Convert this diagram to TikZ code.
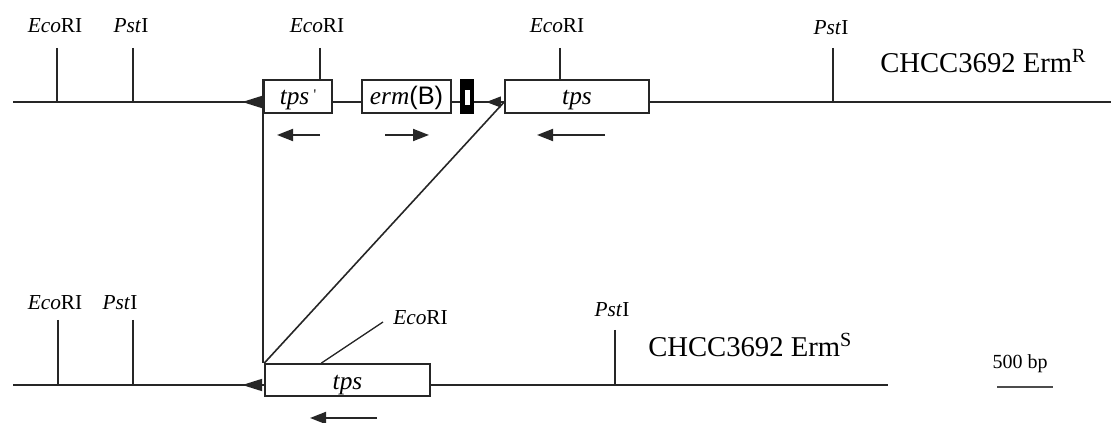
\documentclass[tikz,border=0pt]{standalone}
\usepackage{fontspec}
\setmainfont{Liberation Serif}
\newfontfamily\sansB{Liberation Sans}
\usetikzlibrary{arrows.meta}
\tikzset{
  dna/.style={line width=1.4pt, black!85},
  ticker/.style={line width=1.0pt, black!85},
  gene/.style={draw=black!85, fill=white, line width=1.2pt, inner sep=0pt,
    minimum height=24.75pt, text height=15pt, text depth=3pt,
    font=\fontsize{19}{19}\selectfont\itshape},
  site/.style={inner sep=0pt, anchor=base, font=\fontsize{16}{16}\selectfont},
  strain/.style={inner sep=0pt, anchor=base west, font=\fontsize{21.5}{21.5}\selectfont},
  bighead/.style={-{Triangle[length=15pt,width=9pt]}},
  midhead/.style={-{Triangle[length=11pt,width=8pt]}},
  dirarrow/.style={line width=1.4pt, black!85, -{Triangle[length=12pt,width=9pt]}}
}
\newcommand{\enz}[1]{\textit{#1}RI}
\begin{document}
\begin{tikzpicture}[x=0.75pt,y=-0.75pt]
\useasboundingbox (0,0) rectangle (1111,423);
% ---------- top map (Erm R) ----------
\coordinate (L1) at (13,102);
\coordinate (R1) at (1111,102);
\node[gene, minimum width=51pt] (tpsp) at (298,96.5) {tps\,\raisebox{4pt}{\upshape\fontsize{11}{11}\selectfont\textquotesingle}};
\node[gene, minimum width=66.75pt] (erm) at (406.5,96.5) {erm{\sansB\upshape(B)}};
\node[draw=black, fill=black, line width=0.8pt, inner sep=0pt, minimum width=9pt, minimum height=24.75pt] (ins) at (467,96.5) {};
\fill[white] (465,90) rectangle (469.5,105);
\node[gene, minimum width=108pt] (tpsR) at (577,96.5) {tps};

\draw[dna] (L1) -- (tpsp.west |- L1);
\draw[dna, bighead] (tpsp.west |- L1) -- ++(-21,0);
\draw[dna] (tpsp.east |- L1) -- (erm.west |- L1);
\draw[dna] (erm.east |- L1) -- (ins.west |- L1);
\draw[dna] (ins.east |- L1) -- (tpsR.west |- L1);
\draw[dna, midhead] (tpsR.west |- L1) -- ++(-18,0);
\draw[dna] (tpsR.east |- L1) -- (R1);

% restriction sites, top
\node[site] (e1) at (55,33) {\enz{Eco}};
\node[site] (p1) at (131,33) {\textit{Pst}I};
\node[site] (e2) at (317,33) {\enz{Eco}};
\node[site] (e3) at (557,33) {\enz{Eco}};
\node[site] (p2) at (831,35) {\textit{Pst}I};
\draw[ticker] (57,48) -- (57,102);
\draw[ticker] (133,48) -- (133,102);
\draw[ticker] (320,48) -- (320,80);
\draw[ticker] (560,48) -- (560,80);
\draw[ticker] (833,48) -- (833,102);
\node[strain] (lblR) at (880,73) {CHCC3692 Erm\textsuperscript{R}};

% orientation arrows, top
\draw[dirarrow] (320,135) -- (277,135);
\draw[dirarrow] (385,135) -- (429,135);
\draw[dirarrow] (605,135) -- (537,135);

% ---------- bottom map (Erm S) ----------
\coordinate (L2) at (13,385);
\coordinate (R2) at (888,385);
\node[gene, minimum width=123.75pt, minimum height=24pt, text height=17pt] (tpsS) at (347.5,380) {tps};
\draw[dna] (L2) -- (tpsS.west |- L2);
\draw[dna, bighead] (tpsS.west |- L2) -- ++(-22,0);
\draw[dna] (tpsS.east |- L2) -- (R2);

\node[site] (e4) at (55,310) {\enz{Eco}};
\node[site] (p3) at (120,310) {\textit{Pst}I};
\node[site] (p4) at (612,317) {\textit{Pst}I};
\node[site, anchor=base west] (e5) at (393,325) {\enz{Eco}};
\draw[ticker] (58,320) -- (58,385);
\draw[ticker] (133,320) -- (133,385);
\draw[ticker] (615,330) -- (615,385);
\coordinate (e5foot) at (383,322);
\draw[ticker] ([xshift=42.75pt]tpsS.north west) -- (e5foot);
\node[strain] (lblS) at (648,357) {CHCC3692 Erm\textsuperscript{S}};

\draw[dirarrow] (377,418) -- (310,418);

% ---------- connections between maps ----------
\draw[ticker, line width=1.2pt] (tpsp.north west) -- (tpsp.north west |- tpsS.north);
\draw[ticker, line width=1.2pt] (tpsR.west |- L1) -- (tpsS.north west);

% ---------- scale bar ----------
\node[site, font=\fontsize{15}{15}\selectfont] (bp) at (1020,369) {500 bp};
\coordinate (sb1) at (997,387);
\coordinate (sb2) at (1053,387);
\draw[line width=1pt, black!70] (sb1) -- (sb2);
\end{tikzpicture}
\end{document}
